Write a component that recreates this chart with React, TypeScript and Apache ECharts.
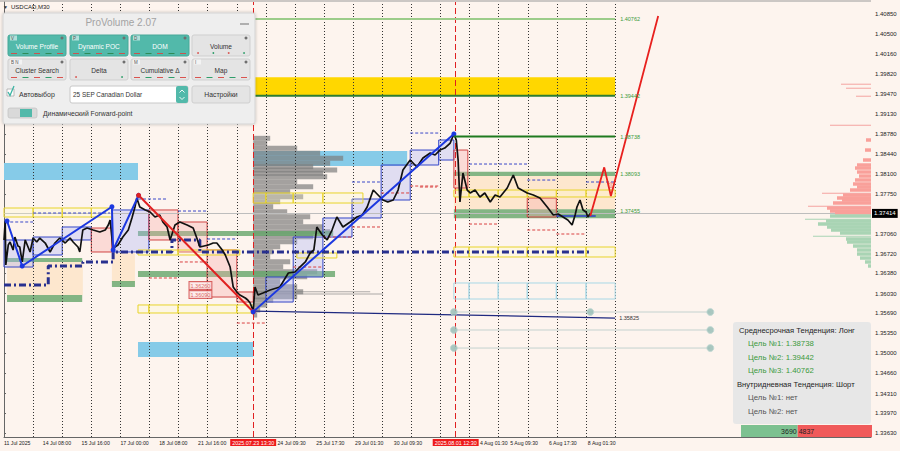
import React, { useEffect, useRef } from "react";
import * as echarts from "echarts";

const FONT = '"Liberation Sans", Arial, sans-serif';
const BG = "#fdf4ee";

// ---- axes (x = M30 bar index counted from 11 Jul 2025 00:00, trading time) ----
const X_MIN = 0;
const X_MAX = 1430;
const Y_MIN = 1.33561;
const Y_MAX = 1.41057;

const xLabelValues = [0, 64, 128, 192, 256, 320, 451, 515, 579, 643, 785, 835, 899, 963];
const xLabelTexts = [
  "11 Jul 2025", "14 Jul 08:00", "15 Jul 16:00", "17 Jul 00:00", "18 Jul 08:00", "21 Jul 16:00",
  "24 Jul 09:30", "25 Jul 17:30", "29 Jul 01:30", "30 Jul 09:30", "4 Aug 01:30", "5 Aug 09:30",
  "6 Aug 17:30", "8 Aug 01:30",
];
const yTickValues = [
  1.4085, 1.405, 1.4016, 1.3982, 1.3947, 1.3913, 1.3878, 1.3844, 1.381, 1.3775,
  1.3706, 1.3672, 1.3638, 1.3603, 1.3569, 1.3535, 1.35, 1.3466, 1.3431, 1.3397, 1.3363,
];
const dayLines = [48, 96, 144, 192, 240, 288, 336, 384, 432, 480, 528, 576, 624, 672, 720, 768, 816, 864, 912, 960, 1008];
const eventBars = [411, 745];
const eventLabels = ["2025.07.23 13:30", "2025.08.01 12:30"];
const currentPrice = 1.37414;

// ---- price path [bar, price] ----
const pricePath = [
  [0, 1.36956], [2, 1.37283], [3, 1.36525], [7, 1.36869], [10, 1.36921], [15, 1.36783], [18, 1.37007],
  [23, 1.36852], [26, 1.36835], [30, 1.36577], [35, 1.36956], [43, 1.36749], [48, 1.3699], [54, 1.36921],
  [59, 1.3699], [68, 1.36904], [76, 1.36749], [84, 1.36904], [92, 1.3699], [101, 1.36904], [109, 1.3699],
  [114, 1.36921], [122, 1.36835], [125, 1.36749], [130, 1.37128], [137, 1.37162], [147, 1.37128],
  [158, 1.37093], [167, 1.37128], [172, 1.37214], [175, 1.373], [180, 1.36783], [183, 1.36835],
  [188, 1.36869], [196, 1.37007], [205, 1.37128], [211, 1.37335], [216, 1.37524], [219, 1.37679],
  [224, 1.37524], [233, 1.37473], [241, 1.37438], [249, 1.37352], [257, 1.37386], [262, 1.37266],
  [269, 1.3718], [274, 1.36956], [282, 1.37214], [290, 1.37266], [302, 1.37214], [312, 1.37162],
  [318, 1.3699], [323, 1.36835], [337, 1.36869], [345, 1.36904], [351, 1.36904], [360, 1.36783],
  [365, 1.36697], [373, 1.3649], [378, 1.36146], [384, 1.3606], [389, 1.36008], [398, 1.35956],
  [402, 1.35922], [406, 1.3587], [411, 1.35732], [414, 1.36146], [419, 1.36008], [427, 1.36042],
  [439, 1.36094], [455, 1.36146], [469, 1.36387], [480, 1.36404], [488, 1.3649], [497, 1.36577],
  [505, 1.36732], [511, 1.36783], [516, 1.3718], [525, 1.37042], [533, 1.36956], [541, 1.37128],
  [549, 1.37352], [559, 1.3718], [571, 1.37266], [582, 1.37352], [591, 1.37386], [599, 1.37524],
  [609, 1.37817], [617, 1.37731], [625, 1.37645], [633, 1.3761], [642, 1.37645], [650, 1.37817],
  [658, 1.38162], [670, 1.38334], [681, 1.38214], [691, 1.38369], [703, 1.38455], [711, 1.3842],
  [719, 1.38506], [727, 1.38541], [736, 1.38627], [742, 1.38782], [746, 1.38679], [749, 1.38334],
  [752, 1.3761], [757, 1.3811], [764, 1.37817], [769, 1.37766], [777, 1.37817], [785, 1.37697],
  [793, 1.37766], [802, 1.3761], [810, 1.37731], [818, 1.37697], [830, 1.37852], [840, 1.38076],
  [848, 1.37852], [854, 1.37817], [863, 1.37766], [873, 1.37731], [884, 1.37679], [896, 1.37524],
  [906, 1.37386], [914, 1.37404], [922, 1.37352], [930, 1.373], [937, 1.37214], [942, 1.37386],
  [945, 1.37524], [950, 1.37645], [955, 1.37473], [960, 1.37438], [963, 1.37352], [967, 1.37414],
];

// ---- zigzag & projection ----
const zigBlueA = [[5, 1.37283], [30, 1.36508], [178, 1.37529], [180, 1.36783], [222, 1.37726]];
const zigRed = [[222, 1.37726], [411, 1.3572]];
const zigBlueB = [[411, 1.3572], [742, 1.38782]];
const projection = [[967, 1.37369], [990, 1.38208], [1001, 1.37714], [1079, 1.40816]];

// ---- POC dash-dot line, navy support line ----
const pocLine = [
  [0, 1.3618], [73, 1.3618], [73, 1.36508], [130, 1.36508], [130, 1.36577], [180, 1.36577],
  [180, 1.36749], [277, 1.36749], [277, 1.36956], [323, 1.36956], [323, 1.36749], [967, 1.36749],
];
const navyLine = [[411, 1.35732], [767, 1.35662], [1008, 1.35611]];
const navyLabel = "1.35825";

// ---- target levels ----
const levelPrices = [1.40762, 1.39442, 1.38738, 1.38093, 1.37455];
const levelFrom = [411, 300, 742, 742, 742];
const levelTo = [1008, 1008, 1008, 1008, 1008];
const levelDrawLine = [true, true, true, false, false];

// ---- zones [bar0, bar1, low, high] ----
const yellowBand = [[300, 1008, 1.39442, 1.3976]];
const cyanBands = [[0, 221, 1.37989, 1.38282], [221, 411, 1.34939, 1.35198], [411, 665, 1.38231, 1.38489]];
const peachZones = [[5, 130, 1.36008, 1.36577], [178, 216, 1.36232, 1.36732], [742, 1008, 1.37485, 1.38058]];
const greenBands = [
  [221, 543, 1.37024, 1.37111], [221, 546, 1.36318, 1.36421], [5, 129, 1.35887, 1.36008],
  [178, 216, 1.36146, 1.36249], [5, 129, 1.36577, 1.36646], [742, 1008, 1.38058, 1.38132],
  [742, 1008, 1.3733, 1.37485],
];
const upBoxes = [
  [0, 48, 1.3649, 1.36956], [48, 96, 1.36697, 1.37007], [96, 144, 1.36956, 1.3718], [178, 239, 1.36749, 1.37473],
  [432, 477, 1.35887, 1.36318], [477, 526, 1.36318, 1.37007], [526, 574, 1.37007, 1.37335],
  [574, 622, 1.37335, 1.37662], [622, 670, 1.37645, 1.38248], [670, 717, 1.38248, 1.38506],
  [717, 742, 1.38334, 1.38679],
];
const downBoxes = [
  [144, 178, 1.36749, 1.37162], [239, 287, 1.36956, 1.37473], [287, 335, 1.36749, 1.37266],
  [335, 384, 1.35973, 1.36783], [384, 411, 1.35887, 1.3606], [742, 765, 1.37852, 1.38506],
  [863, 911, 1.37352, 1.37679],
];
const yellowBoxes = [
  [0, 48, 1.37352, 1.37507], [48, 96, 1.37352, 1.37507], [96, 144, 1.37352, 1.37507], [144, 178, 1.37352, 1.37507],
  [221, 239, 1.35698, 1.35836], [239, 287, 1.35698, 1.35836], [287, 335, 1.35698, 1.35836],
  [335, 384, 1.35698, 1.35836], [384, 411, 1.35698, 1.35836],
  [221, 287, 1.36697, 1.36783], [287, 335, 1.36697, 1.36783], [335, 389, 1.36697, 1.36783],
  [411, 432, 1.37593, 1.37766], [432, 477, 1.37593, 1.37766], [477, 526, 1.37593, 1.37766], [526, 592, 1.37593, 1.37766],
  [483, 549, 1.36646, 1.36732],
  [742, 767, 1.36663, 1.36835], [767, 815, 1.36663, 1.36835], [815, 863, 1.36663, 1.36835],
  [863, 911, 1.36663, 1.36835], [911, 960, 1.36663, 1.36835], [960, 1008, 1.36663, 1.36835],
  [742, 767, 1.37697, 1.37817], [767, 815, 1.37697, 1.37817], [815, 863, 1.37697, 1.37817],
  [863, 911, 1.37697, 1.37817], [911, 960, 1.37697, 1.37817], [960, 1008, 1.37697, 1.37817],
];
const lightBlueBoxes = [
  [742, 767, 1.35939, 1.36215], [767, 815, 1.35939, 1.36215], [815, 863, 1.35939, 1.36215],
  [863, 911, 1.35939, 1.36215], [911, 960, 1.35939, 1.36215], [960, 1008, 1.35939, 1.36215],
];

// ---- dashed range markers [bar0, bar1, price] ----
const blueDashes = [
  [2, 48, 1.37266], [48, 175, 1.37421], [221, 270, 1.37662], [287, 335, 1.37455], [335, 384, 1.36973],
  [574, 620, 1.37955], [670, 717, 1.38799], [767, 863, 1.38265], [863, 911, 1.37989], [960, 1008, 1.37955],
];
const redDashes = [
  [686, 714, 1.37869], [767, 815, 1.37231], [863, 911, 1.37128], [911, 960, 1.37059], [290, 335, 1.36577],
  [239, 287, 1.36301], [384, 432, 1.35525], [477, 526, 1.3649], [526, 574, 1.37007], [574, 622, 1.3718],
  [622, 670, 1.37766], [670, 717, 1.37886],
];
const blueMarker = [[911, 976, 1.37369]];

// ---- volume profile (left, from 23 Jul low) [price, volume] ----
const profilePrices = [
  1.38708, 1.38622, 1.38536, 1.3845, 1.38363, 1.38277, 1.38219, 1.38162, 1.38105, 1.38046, 1.3796, 1.37874,
  1.37788, 1.37702, 1.37616, 1.37529, 1.37443, 1.37357, 1.37271, 1.37185, 1.37099, 1.37012, 1.36926, 1.3684,
  1.36754, 1.36668, 1.36582, 1.36496, 1.36409, 1.36323, 1.36237, 1.36151, 1.36065, 1.35979, 1.35922,
  1.35836, 1.35749, 1.35663,
];
const profileVolumes = [
  17, 14, 44, 67, 90, 77, 60, 84, 70, 74, 44, 60, 37, 50, 27, 20, 34, 57, 50, 70, 77, 60, 44, 27, 20, 17,
  37, 30, 64, 54, 27, 44, 50, 44, 20, 14, 7, 4,
];
const profileSpikePrices = [1.36065, 1.36025];
const profileSpikeVolumes = [117, 130];

// ---- right-side profile ----
const askPrices = [1.38679, 1.38506, 1.38334, 1.38248, 1.38196, 1.38127, 1.38058, 1.3799, 1.37921, 1.37869, 1.37817, 1.37731, 1.37679, 1.37645, 1.37593, 1.37507, 1.37455, 1.37421];
const askVolumes = [5, 6, 8, 14, 16, 14, 12, 16, 18, 14, 21, 28, 34, 29, 38, 44, 41, 36];
const askSpikePrices = [1.39644, 1.39575, 1.39437, 1.38937, 1.37766, 1.37542];
const askSpikeVolumes = [30, 25, 15, 41, 49, 63];
const bidPrices = [1.37369, 1.37283, 1.37231, 1.3718, 1.37128, 1.37076, 1.36973, 1.36921, 1.36852, 1.36783, 1.36714, 1.36645, 1.36577, 1.36508];
const bidVolumes = [41, 45, 53, 44, 40, 31, 25, 24, 18, 14, 14, 11, 6, 3];
const bidSpikePrices = [1.37317, 1.37025];
const bidSpikeVolumes = [66, 58];

// ---- forward-point circles ----
const circlePoints = [[742, 1.35715], [742, 1.35405], [742, 1.35094], [967, 1.35715], [1165, 1.35715], [1165, 1.35405], [1165, 1.35094]];
const circleLinks = [[742, 1165, 1.35715], [742, 1165, 1.35405], [742, 1165, 1.35094]];

// ---- labelled levels on the down leg ----
const tagPoints = [[324, 1.36171], [324, 1.36016]];
const tagTexts = ["1.36260", "1.36090"];

// ---- info panel ----
const midTrend = "Лонг";
const midGoals = [1.38738, 1.39442, 1.40762];
const intraTrend = "Шорт";
const intraGoals = ["нет", "нет"];
const buySell = [3690, 4837];

const BARS_PER_VOL = 1.6495;

function rectSeries(name: string, data: number[][], style: any, z: number) {
  return {
    type: "custom", name, z, silent: true,
    renderItem: (_p: any, api: any) => {
      const a = api.coord([api.value(0), api.value(3)]);
      const b = api.coord([api.value(1), api.value(2)]);
      return { type: "rect", shape: { x: a[0], y: a[1], width: b[0] - a[0], height: b[1] - a[1] }, style };
    },
    data,
  };
}

function segSeries(name: string, data: number[][], style: any, z: number) {
  return {
    type: "custom", name, z, silent: true,
    renderItem: (_p: any, api: any) => {
      const a = api.coord([api.value(0), api.value(2)]);
      const b = api.coord([api.value(1), api.value(2)]);
      return { type: "line", shape: { x1: a[0], y1: a[1], x2: b[0], y2: b[1] }, style };
    },
    data,
  };
}

function profileSeries(name: string, prices: number[], vols: number[], anchor: number, dir: number, half: number, fill: string, z: number) {
  return {
    type: "custom", name, z, silent: true,
    renderItem: (_p: any, api: any) => {
      const p = api.value(0);
      const v = api.value(1);
      const a = api.coord([anchor, p + half]);
      const b = api.coord([anchor + dir * v * BARS_PER_VOL, p - half]);
      return {
        type: "rect",
        shape: { x: Math.min(a[0], b[0]), y: a[1], width: Math.abs(b[0] - a[0]), height: Math.max(1, b[1] - a[1]) },
        style: { fill },
      };
    },
    data: prices.map((p, i) => [p, vols[i]]),
  };
}

function buildGraphic() {
  const g: any[] = [];
  const Z = 100;
  g.push({ type: "text", z: Z, style: { text: "▼", x: 3, y: 7, fill: "#333", fontSize: 5, fontFamily: FONT, verticalAlign: "middle" } });
  g.push({ type: "text", z: Z, style: { text: "USDCAD,M30", x: 11, y: 7, fill: "#222", fontSize: 6, fontFamily: FONT, verticalAlign: "middle" } });

  // ProVolume panel
  g.push({ type: "rect", z: Z, shape: { x: 3, y: 13, width: 252, height: 111, r: 2 }, style: { fill: "#eeeeee", stroke: "#d4d4d4", lineWidth: 1, shadowBlur: 3, shadowColor: "rgba(0,0,0,0.25)" } });
  g.push({ type: "text", z: Z, style: { text: "ProVolume 2.07", x: 121, y: 22, fill: "#a3a3a3", fontSize: 10, fontFamily: FONT, align: "center", verticalAlign: "middle" } });
  g.push({ type: "line", z: Z, shape: { x1: 240, y1: 24, x2: 249, y2: 24 }, style: { stroke: "#9a9a9a", lineWidth: 1.5 } });
  const btns = [
    { t: "Volume Profile", tag: "V", x: 8, y: 35, teal: true },
    { t: "Dynamic POC", tag: "P", x: 70, y: 35, teal: true },
    { t: "DOM", tag: "D", x: 131, y: 35, teal: true },
    { t: "Volume", tag: "", x: 192, y: 35, teal: false },
    { t: "Cluster Search", tag: "B N", x: 8, y: 59, teal: false },
    { t: "Delta", tag: "", x: 70, y: 59, teal: false },
    { t: "Cumulative Δ", tag: "M", x: 131, y: 59, teal: false },
    { t: "Map", tag: "I", x: 192, y: 59, teal: false },
  ];
  btns.forEach((b, bi) => {
    g.push({ type: "rect", z: Z, shape: { x: b.x, y: b.y, width: 58, height: 21, r: 2 }, style: { fill: b.teal ? "#52b9aa" : "#e4e4e4", stroke: b.teal ? "#47a898" : "#cfcfcf", lineWidth: 1 } });
    g.push({ type: "text", z: Z, style: { text: b.t, x: b.x + 29, y: b.y + 11, fill: b.teal ? "#ffffff" : "#333", fontSize: 6.6, fontFamily: FONT, align: "center", verticalAlign: "middle" } });
    if (b.tag) {
      g.push({ type: "rect", z: Z, shape: { x: b.x + 2, y: b.y + 0.5, width: b.tag.length > 1 ? 12 : 7, height: 5 }, style: { fill: "rgba(255,255,255,0.55)" } });
      g.push({ type: "text", z: Z, style: { text: b.tag, x: b.x + 3, y: b.y + 3, fill: "#555", fontSize: 4.5, fontFamily: FONT, verticalAlign: "middle" } });
    }
    g.push({ type: "circle", z: Z, shape: { cx: b.x + 54, cy: b.y + 3, r: 1.5 }, style: { fill: "#6f6f6f" } });
    const n = bi === 5 ? 2 : bi === 3 ? 4 : 5;
    for (let k = 0; k < n; k++) {
      const cx = b.x + 6 + (k * 46) / Math.max(1, n - 1);
      const col = k % 2 === 0 ? "#d9534f" : "#2f9e6a";
      if (bi === 3 || bi === 5) g.push({ type: "circle", z: Z, shape: { cx, cy: b.y + 18, r: 0.9 }, style: { fill: col } });
      else g.push({ type: "line", z: Z, shape: { x1: cx - 3, y1: b.y + 18.5, x2: cx + 3, y2: b.y + 18.5 }, style: { stroke: b.teal ? (k % 2 ? "#2e8b57" : "#c9534f") : col, lineWidth: 1 } });
    }
  });
  g.push({ type: "rect", z: Z, shape: { x: 7, y: 89, width: 7, height: 7 }, style: { fill: "#fff", stroke: "#aaa", lineWidth: 0.8 } });
  g.push({ type: "polyline", z: Z, shape: { points: [[8, 92], [10, 95.5], [14, 86]] }, style: { stroke: "#3cb4a4", lineWidth: 1.3, fill: "none" } });
  g.push({ type: "text", z: Z, style: { text: "Автовыбор", x: 19, y: 94, fill: "#333", fontSize: 7, fontFamily: FONT, verticalAlign: "middle" } });
  g.push({ type: "rect", z: Z, shape: { x: 70, y: 86, width: 118, height: 17, r: 2 }, style: { fill: "#fff", stroke: "#c8c8c8", lineWidth: 1 } });
  g.push({ type: "text", z: Z, style: { text: "25 SEP Canadian Dollar", x: 73, y: 94.5, fill: "#333", fontSize: 6.4, fontFamily: FONT, verticalAlign: "middle" } });
  g.push({ type: "rect", z: Z, shape: { x: 176, y: 86, width: 12, height: 17, r: 2 }, style: { fill: "#52b9aa" } });
  g.push({ type: "polyline", z: Z, shape: { points: [[179.5, 92.5], [182, 90], [184.5, 92.5]] }, style: { stroke: "#fff", lineWidth: 0.9, fill: "none" } });
  g.push({ type: "polyline", z: Z, shape: { points: [[179.5, 97], [182, 99.5], [184.5, 97]] }, style: { stroke: "#fff", lineWidth: 0.9, fill: "none" } });
  g.push({ type: "rect", z: Z, shape: { x: 192, y: 86, width: 58, height: 17, r: 2 }, style: { fill: "#e4e4e4", stroke: "#cfcfcf", lineWidth: 1 } });
  g.push({ type: "text", z: Z, style: { text: "Настройки", x: 221, y: 94.5, fill: "#333", fontSize: 6.8, fontFamily: FONT, align: "center", verticalAlign: "middle" } });
  g.push({ type: "rect", z: Z, shape: { x: 8, y: 108, width: 29, height: 10, r: 2 }, style: { fill: "#d9d9d9", stroke: "#c4c4c4", lineWidth: 0.8 } });
  g.push({ type: "rect", z: Z, shape: { x: 20, y: 109, width: 12, height: 8 }, style: { fill: "#52b9aa" } });
  g.push({ type: "text", z: Z, style: { text: "Динамический Forward-point", x: 43, y: 113.5, fill: "#333", fontSize: 6.8, fontFamily: FONT, verticalAlign: "middle" } });

  // trend info box
  g.push({ type: "rect", z: Z, shape: { x: 733, y: 322, width: 138, height: 102, r: 3 }, style: { fill: "rgba(230,230,230,0.96)" } });
  const lines = [
    { t: `Среднесрочная Тенденция: ${midTrend}`, x: 739, c: "#1e1e1e" },
    ...midGoals.map((v, i) => ({ t: `Цель №${i + 1}: ${v.toFixed(5)}`, x: 748, c: "#3c9a3c" })),
    { t: `Внутридневная Тенденция: ${intraTrend}`, x: 737, c: "#1e1e1e" },
    ...intraGoals.map((v, i) => ({ t: `Цель №${i + 1}: ${v}`, x: 748, c: "#555" })),
  ];
  lines.forEach((l, i) => {
    g.push({ type: "text", z: Z, style: { text: l.t, x: l.x, y: 330 + i * 13.5, fill: l.c, fontSize: i === 0 || i === 4 ? 7.6 : 7.8, fontFamily: FONT, verticalAlign: "middle" } });
  });
  const total = buySell[0] + buySell[1];
  const bx = 741, bw = 131;
  const gw = (bw * buySell[0]) / total;
  g.push({ type: "rect", z: Z, shape: { x: bx, y: 425, width: gw, height: 12 }, style: { fill: "#7cc190" } });
  g.push({ type: "rect", z: Z, shape: { x: bx + gw, y: 425, width: bw - gw, height: 12 }, style: { fill: "#f05a5a" } });
  g.push({ type: "text", z: Z, style: { text: String(buySell[0]), x: bx + gw - 1, y: 431, fill: "#222", fontSize: 7, fontFamily: FONT, align: "right", verticalAlign: "middle" } });
  g.push({ type: "text", z: Z, style: { text: String(buySell[1]), x: bx + gw + 1, y: 431, fill: "#222", fontSize: 7, fontFamily: FONT, verticalAlign: "middle" } });
  g.push({ type: "line", z: Z, shape: { x1: 0, y1: 1, x2: 871, y2: 1 }, style: { stroke: "#9a9a9a", lineWidth: 1 } });
  return g;
}

function buildOption() {
  const series: any[] = [];
  series.push(rectSeries("peach", peachZones, { fill: "#fde4c6", opacity: 0.8 }, 1));
  series.push(rectSeries("yellowBand", yellowBand, { fill: "#ffd700" }, 1));
  series.push(rectSeries("cyan", cyanBands, { fill: "#86cbe8" }, 1));
  series.push(profileSeries("profile", profilePrices, profileVolumes, 411, 1, 0.00043, "rgba(125,125,125,0.7)", 2));
  series.push(profileSeries("profileSpikes", profileSpikePrices, profileSpikeVolumes, 411, 1, 0.00007, "rgba(120,120,120,0.6)", 2));
  series.push(rectSeries("green", greenBands, { fill: "rgba(100,165,105,0.8)" }, 3));
  series.push(rectSeries("upBoxes", upBoxes, { fill: "rgba(170,178,245,0.35)", stroke: "#3446c8", lineWidth: 1 }, 4));
  series.push(rectSeries("downBoxes", downBoxes, { fill: "rgba(245,170,170,0.35)", stroke: "#d04545", lineWidth: 1 }, 4));
  series.push(rectSeries("yellowBoxes", yellowBoxes, { fill: "rgba(255,250,200,0.25)", stroke: "#e8d42a", lineWidth: 1 }, 5));
  series.push(rectSeries("lightBlueBoxes", lightBlueBoxes, { fill: "none", stroke: "#a8d8e6", lineWidth: 1 }, 5));
  series.push(profileSeries("ask", askPrices, askVolumes, X_MAX, -1, 0.0003, "#f9a09a", 5));
  series.push(profileSeries("askSpikes", askSpikePrices, askSpikeVolumes, X_MAX, -1, 0.00005, "#f4a3a0", 5));
  series.push(profileSeries("bid", bidPrices, bidVolumes, X_MAX, -1, 0.0003, "#a9d4b4", 5));
  series.push(profileSeries("bidSpikes", bidSpikePrices, bidSpikeVolumes, X_MAX, -1, 0.00005, "#a9d4b4", 5));
  series.push(segSeries("circleLinks", circleLinks, { stroke: "#c4d2cf", lineWidth: 1 }, 6));
  series.push(segSeries("blueDash", blueDashes, { stroke: "#3a48c8", lineWidth: 1, lineDash: [3, 2] }, 7));
  series.push(segSeries("redDash", redDashes, { stroke: "#d94040", lineWidth: 1, lineDash: [3, 2] }, 7));
  series.push(segSeries("blueMarker", blueMarker, { stroke: "#2a3cc8", lineWidth: 1.5 }, 7));

  // grid markers: day separators, event lines, current price
  series.push({
    type: "line", name: "markers", z: 8, silent: true, data: [[X_MIN, Y_MIN - 1]], showSymbol: false,
    lineStyle: { opacity: 0 },
    markLine: {
      silent: true, symbol: ["none", "none"], animation: false, precision: 5,
      data: [
        ...dayLines.map((d) => ({ xAxis: d, lineStyle: { color: "#333", type: [1, 2], width: 1 }, label: { show: false } })),
        ...eventBars.map((b, i) => ({
          xAxis: b, lineStyle: { color: "#e02020", type: [6, 3], width: 1 },
          label: { show: true, position: "start", formatter: eventLabels[i], backgroundColor: "#ee1b1b", color: "#fff", fontSize: 5.4, fontFamily: FONT, padding: [1, 2], distance: 2 },
        })),
        {
          yAxis: currentPrice, lineStyle: { color: "#bdbdbd", type: "solid", width: 1 },
          label: { show: true, position: "end", formatter: currentPrice.toFixed(5), backgroundColor: "#000", color: "#fff", fontSize: 6, fontFamily: FONT, padding: [1.5, 2], distance: 1 },
        },
      ],
    },
  });

  series.push({ type: "line", name: "poc", z: 9, silent: true, data: pocLine, showSymbol: false, lineStyle: { color: "#28308f", width: 3, type: [7, 3, 2, 3] } });
  series.push({
    type: "line", name: "navy", z: 9, silent: true, data: navyLine, showSymbol: false, lineStyle: { color: "#1f2a80", width: 1.3 },
    endLabel: { show: true, formatter: navyLabel, color: "#333", fontSize: 5.5, fontFamily: FONT, distance: 4 },
  });
  series.push({ type: "line", name: "price", z: 10, silent: true, data: pricePath, showSymbol: false, lineStyle: { color: "#111", width: 1.7 } });
  series.push({ type: "line", name: "zigA", z: 11, silent: true, data: zigBlueA, symbol: "circle", symbolSize: 5, itemStyle: { color: "#1c38e0" }, lineStyle: { color: "#1c38e0", width: 2 } });
  series.push({ type: "line", name: "zigRed", z: 11, silent: true, data: zigRed, symbol: "circle", symbolSize: 5, itemStyle: { color: "#e02020" }, lineStyle: { color: "#e02020", width: 2 } });
  series.push({ type: "line", name: "zigB", z: 11, silent: true, data: zigBlueB, symbol: "circle", symbolSize: 5, itemStyle: { color: "#1c38e0" }, lineStyle: { color: "#1c38e0", width: 2 } });
  series.push({ type: "line", name: "projection", z: 11, silent: true, data: projection, showSymbol: false, lineStyle: { color: "#e8201e", width: 1.8 } });

  // target levels with labels
  const levelColors = ["#9ccc8a", "#2e7d32", "#1f7a1f", "#2e7d32", "#2e7d32"];
  series.push({
    type: "custom", name: "levels", z: 12, silent: true,
    renderItem: (params: any, api: any) => {
      const i = params.dataIndex;
      const a = api.coord([levelFrom[i], levelPrices[i]]);
      const b = api.coord([levelTo[i], levelPrices[i]]);
      const children: any[] = [];
      if (levelDrawLine[i]) children.push({ type: "line", shape: { x1: a[0], y1: a[1], x2: b[0], y2: b[1] }, style: { stroke: levelColors[i], lineWidth: 2 } });
      children.push({ type: "text", x: b[0] + 5, y: a[1], style: { text: levelPrices[i].toFixed(5), fill: "#3a9a3a", fontSize: 5.5, fontFamily: FONT, verticalAlign: "middle" } });
      return { type: "group", children };
    },
    data: levelPrices.map((p, i) => [levelFrom[i], p]),
  });

  series.push({
    type: "scatter", name: "circles", z: 12, silent: true, data: circlePoints, symbolSize: 7,
    itemStyle: { color: "#93bcb4", borderColor: "#c0d8d3", borderWidth: 1 },
  });
  series.push({
    type: "scatter", name: "tags", z: 12, silent: true, data: tagPoints, symbolSize: 0,
    label: {
      show: true, position: "inside", formatter: (p: any) => tagTexts[p.dataIndex], color: "#d04040",
      backgroundColor: "#fdeaea", borderColor: "#d04040", borderWidth: 1, fontSize: 5.5, fontFamily: FONT, padding: [0.5, 1],
    },
  });
  series.push({
    type: "scatter", name: "arrow", z: 12, silent: true, data: [[1001, 1.37903]], symbolSize: 0,
    label: { show: true, position: "inside", formatter: "⇧", color: "#e84040", fontSize: 8, fontFamily: "DejaVu Sans" },
  });

  return {
    animation: false,
    backgroundColor: BG,
    grid: { left: 4, right: 29, top: 2, bottom: 14 },
    xAxis: {
      type: "value", min: X_MIN, max: X_MAX, splitLine: { show: false },
      axisLine: { show: true, lineStyle: { color: "#666" } },
      axisTick: { show: false },
      axisLabel: {
        customValues: xLabelValues,
        formatter: (v: number) => { const i = xLabelValues.indexOf(v); return i >= 0 ? xLabelTexts[i] : ""; },
        fontSize: 5.2, color: "#222", fontFamily: FONT, align: "left", margin: 3,
      },
    },
    yAxis: {
      type: "value", position: "right", min: Y_MIN, max: Y_MAX, splitLine: { show: false },
      axisLine: { show: true, lineStyle: { color: "#666" } },
      axisTick: { show: true, customValues: yTickValues, length: 2, lineStyle: { color: "#666" } },
      axisLabel: { customValues: yTickValues, formatter: (v: number) => v.toFixed(5), fontSize: 6, color: "#222", fontFamily: FONT, margin: 4 },
    },
    series,
    graphic: buildGraphic(),
  };
}

export default function App() {
  const ref = useRef<HTMLDivElement>(null);
  useEffect(() => {
    const chart = echarts.init(ref.current!, null, { renderer: "svg" });
    chart.setOption(buildOption() as any);
    return () => chart.dispose();
  }, []);
  return <div ref={ref} style={{ position: "fixed", left: 0, top: 0, width: 900, height: 451, background: BG }} />;
}
